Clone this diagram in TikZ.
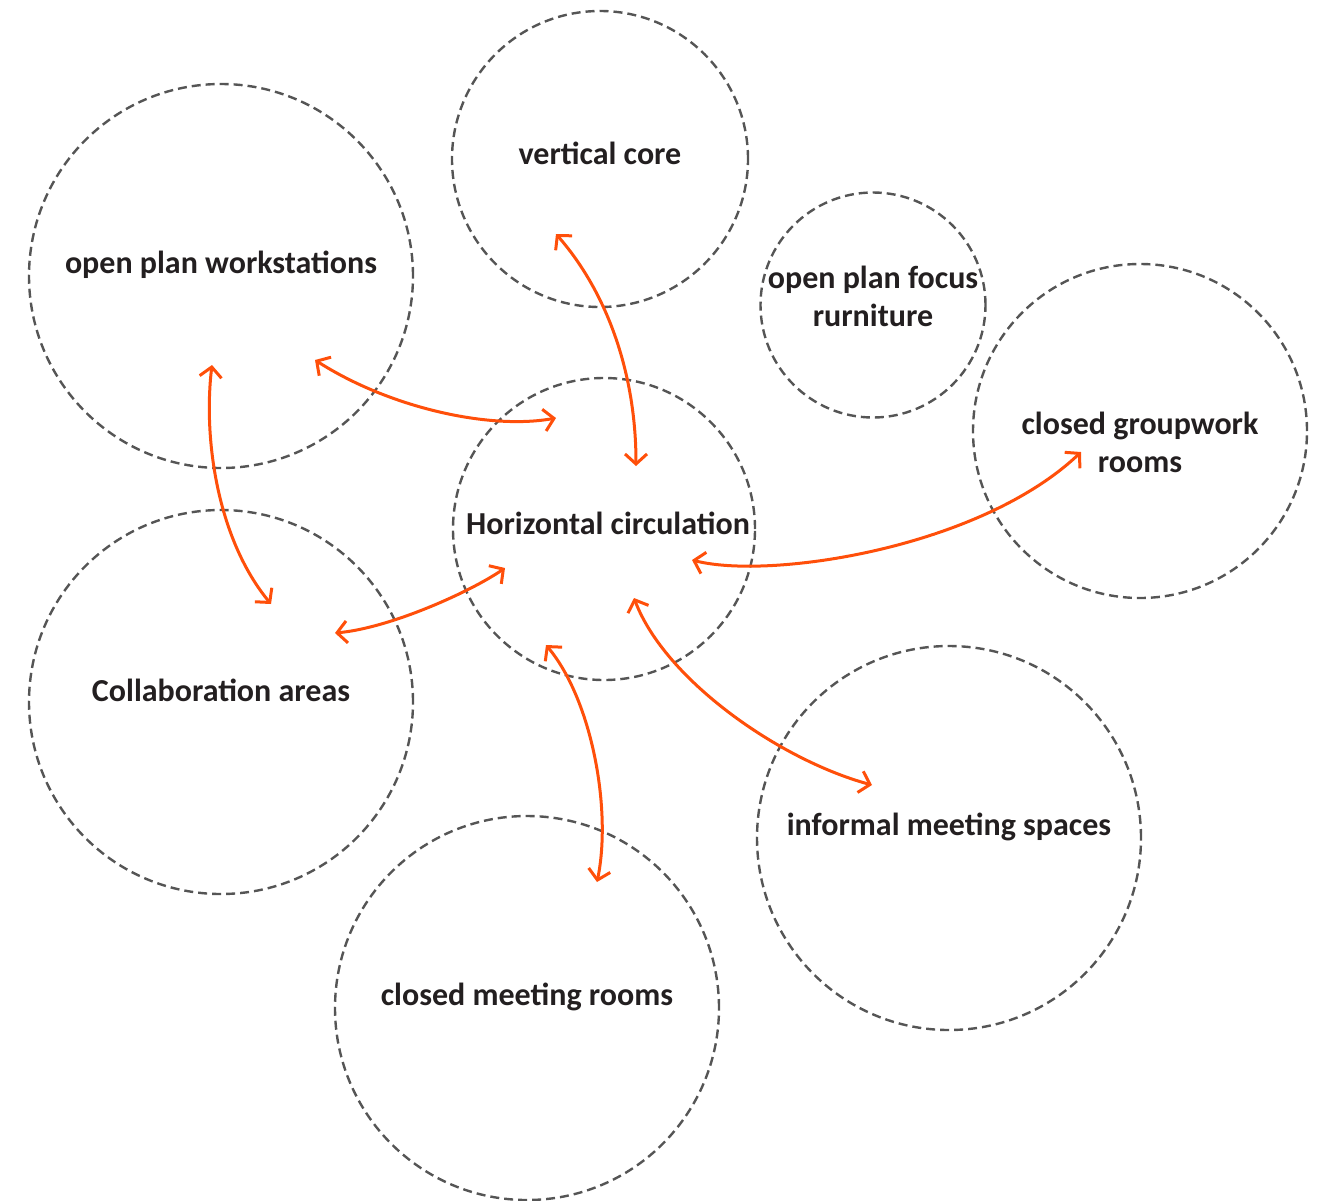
\documentclass[tikz,border=0pt]{standalone}
\usepackage{fontspec}
\setmainfont{Carlito}
\usetikzlibrary{arrows.meta}
\definecolor{zonegrey}{HTML}{555555}
\definecolor{linkorange}{HTML}{FF4F0A}
\definecolor{labelink}{HTML}{231F20}
\tikzset{
  zone/.style={circle, draw=zonegrey, line width=2.4pt, dash pattern=on 9pt off 5pt, inner sep=0pt},
  zonetext/.style={text=labelink, font=\fontsize{32}{38}\selectfont\bfseries, align=center, inner sep=0pt},
  barb/.tip={Straight Barb[length=10pt,width=22pt]},
  link/.style={draw=linkorange, line width=3pt, barb-barb}
}
\begin{document}
\begin{tikzpicture}[x=1pt,y=-1pt]
  \useasboundingbox (0,0) rectangle (1328,1200);
  % zones
  \node[zone, minimum size=296] (vc) at (600,159) {};
  \node[zone, minimum size=384] (ws) at (221,276) {};
  \node[zone, minimum size=225] (ff) at (873,305) {};
  \node[zone, minimum size=334] (gw) at (1140,431) {};
  \node[zone, minimum size=302] (hc) at (604,529) {};
  \node[zone, minimum size=384] (ca) at (221,702) {};
  \node[zone, minimum size=384] (im) at (949,838) {};
  \node[zone, minimum size=384] (mr) at (527,1008) {};
  % labels
  \node[zonetext] (vcl) at (600,153) {vertical core};
  \node[zonetext] (wsl) at (221,265) {open plan workstations};
  \node[zonetext] (ffl) at (873,296) {open plan focus\\rurniture};
  \node[zonetext] (gwl) at (1140,442) {closed groupwork\\rooms};
  \node[zonetext] (hcl) at (608,523) {Horizontal circulation};
  \node[zonetext] (cal) at (221,690) {Collaboration areas};
  \node[zonetext] (iml) at (949,827) {informal meeting spaces};
  \node[zonetext] (mrl) at (527,997) {closed meeting rooms};
  % link ends
  \coordinate (vc-a) at (556,234);  \coordinate (hc-a) at (636,466);
  \coordinate (ws-b) at (315,360);  \coordinate (hc-b) at (556,418);
  \coordinate (ws-c) at (212,365);  \coordinate (ca-c) at (271,604);
  \coordinate (ca-d) at (335,633);  \coordinate (hc-d) at (505,568);
  \coordinate (hc-e) at (692,560);  \coordinate (gw-e) at (1081,452);
  \coordinate (hc-f) at (634,598);  \coordinate (im-f) at (872,785);
  \coordinate (hc-g) at (546,645);  \coordinate (mr-g) at (597,882);
  \begin{scope}[link]
    \draw (vc-a) .. controls (605,290) and (636,370) .. (hc-a);
    \draw (ws-b) .. controls (390,408) and (490,430) .. (hc-b);
    \draw (ws-c) .. controls (203,440) and (218,540) .. (ca-c);
    \draw (ca-d) .. controls (390,628) and (470,592) .. (hc-d);
    \draw (hc-e) .. controls (770,580) and (980,548) .. (gw-e);
    \draw (hc-f) .. controls (665,680) and (780,760) .. (im-f);
    \draw (hc-g) .. controls (592,700) and (612,810) .. (mr-g);
  \end{scope}
\end{tikzpicture}
\end{document}
